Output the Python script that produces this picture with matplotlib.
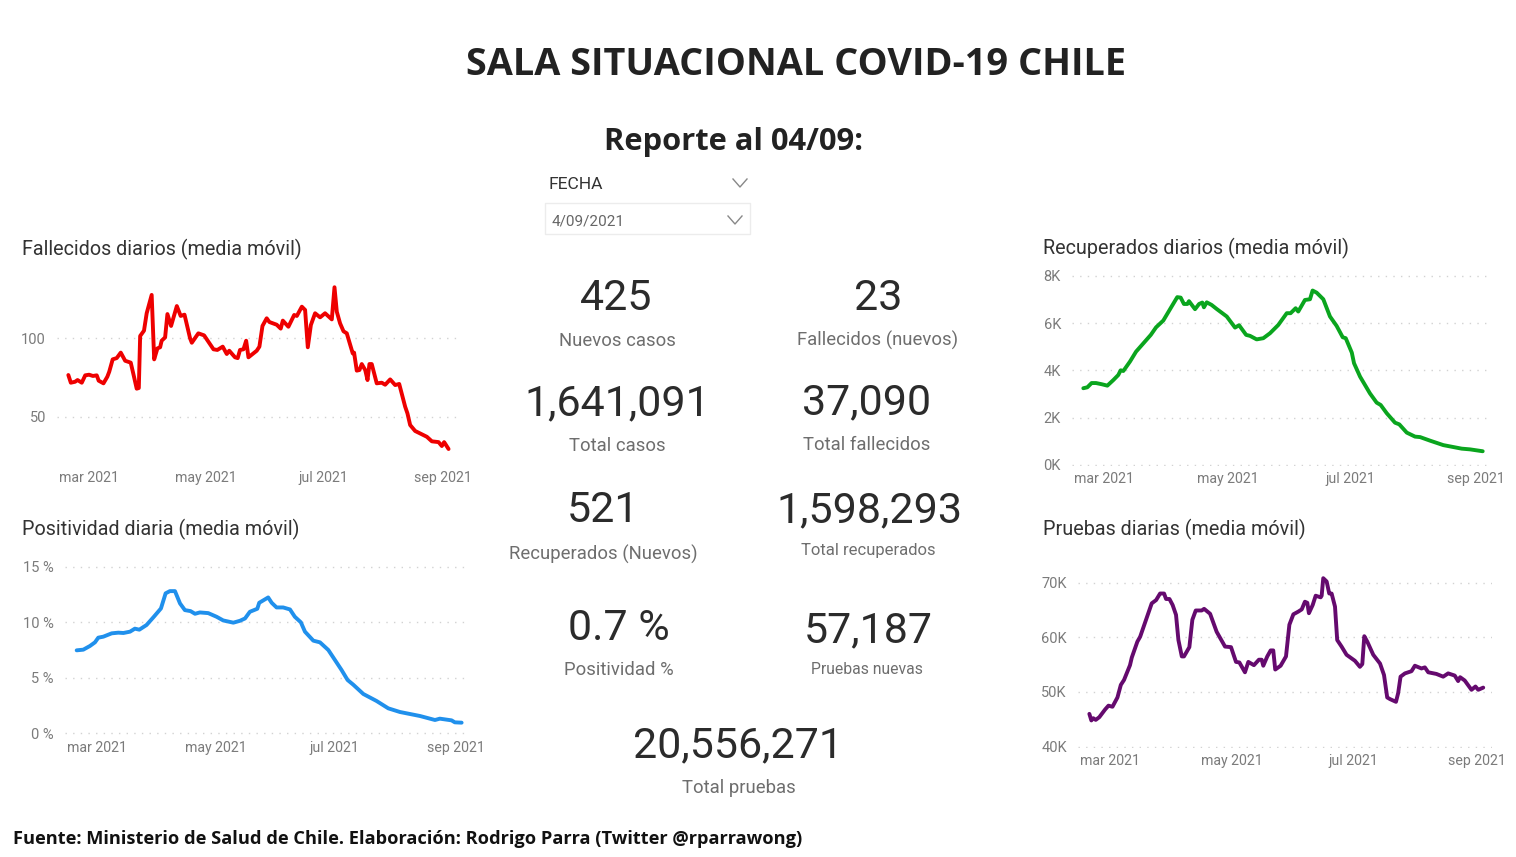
import matplotlib
matplotlib.use("Agg")
import matplotlib.pyplot as plt
from matplotlib.patches import Rectangle

W, H = 1516, 857
LABEL_FONT = "Roboto"
HEAD_FONT = "Open Sans"
GREY = "#7b7b7b"
DARK = "#333333"

# =========================
# Data (days counted from 1 mar 2021)
# =========================
month_ticks = [0, 61, 122, 184]
month_labels = ["mar 2021", "may 2021", "jul 2021", "sep 2021"]

fall_days = [-10.8, -9.5, -7.3, -6, -3.8, -2, 0, 2, 4, 5, 7.5, 9.5, 10.5, 12.3, 14.4, 16.5, 18.8, 21.7, 23.4, 24.8,
             25.9, 26.6, 28.6, 30, 32.6, 33.9, 35.6, 37, 37.8, 39.6, 40.8, 42.7, 45.7, 47.7, 49.7, 52.6, 53.5, 56.9,
             59.9, 64.8, 66.8, 69.6, 71.7, 73, 76, 77.4, 78.6, 80.4, 81.8, 83, 87.3, 88.7, 90.3, 92.5, 93.9, 97.7,
             99.8, 100.9, 103.8, 106.8, 108.2, 110.8, 112.5, 113.9, 115.5, 117.7, 120.3, 122.9, 126.4, 127.8, 129,
             130.7, 132.5, 134.2, 137.3, 138, 139.4, 140.8, 142, 143.8, 145, 146, 147.2, 149.8, 152.4, 154.2, 156.8,
             159.4, 161.5, 164.6, 165.8, 167.2, 169.8, 175.9, 178.5, 182, 183.7, 184.9, 187.2]
fall_vals = [76.6, 71.7, 72.3, 73.4, 71.7, 76.4, 76.8, 76, 76.4, 73, 71.3, 75.5, 78.7, 86.6, 87.4, 90.9, 85.7, 84.5,
             75.5, 67.9, 68.3, 101.5, 104.9, 116, 127.7, 86.6, 93.6, 94.3, 98.5, 100.6, 115.5, 107.9, 120.6, 114.3,
             115.1, 100, 97.2, 103.2, 101.9, 93, 92.6, 94.7, 90, 92.1, 87.9, 87.4, 92.6, 93, 98.5, 87.9, 92.1, 94.7,
             107.9, 112.8, 110.4, 108.7, 106.2, 111.3, 107.4, 114.9, 114.3, 120.2, 118.1, 94.3, 108.5, 116, 113.4,
             116, 112.1, 132.6, 117, 109.6, 104.5, 103.2, 90.4, 90.9, 79.4, 79.8, 83.6, 79.8, 73.4, 83.6, 83.6, 71.3,
             71.7, 70.4, 73.8, 70.2, 70.9, 56.4, 52.1, 44.7, 40.9, 37.2, 34.3, 33.8, 31.3, 33.8, 29.4]

pos_days = [-10.6, -7.2, -3.8, -1.2, 0.5, 3.1, 7.4, 10.8, 13.4, 16.8, 19.3, 21.6, 25.3, 29.1, 32.7, 35.1, 37.3, 39.9,
            42.5, 45, 47.9, 50.2, 52.7, 57, 61.3, 64.7, 69.9, 73.3, 75.9, 78.4, 82.2, 83.2, 87.8, 89.6, 92.1, 95.5,
            99, 101.5, 104.6, 106.7, 111, 114.4, 118.7, 125.5, 128.6, 131.5, 136.7, 143.5, 149.5, 155.5, 165.8,
            173.5, 176, 182, 183.7, 187.2]
pos_vals = [7.47, 7.53, 7.86, 8.19, 8.61, 8.7, 9.0, 9.06, 9.03, 9.15, 9.42, 9.33, 9.75, 10.5, 11.24, 12.6, 12.8, 12.8,
            11.69, 11.09, 11.0, 10.76, 10.88, 10.82, 10.49, 10.16, 9.96, 10.13, 10.34, 10.94, 11.21, 11.75, 12.23,
            11.75, 11.33, 11.33, 11.15, 10.49, 9.99, 9.15, 8.34, 8.19, 7.5, 5.7, 4.8, 4.38, 3.54, 2.91, 2.25, 1.92,
            1.56, 1.2, 1.32, 1.17, 0.99, 0.96]

rec_days = [-10.4, -8.4, -6.3, -4.1, -1.3, 1.5, 4.5, 6.9, 8.1, 9.4, 12.7, 15.7, 19.3, 23, 25.6, 29.2, 33.3, 36.1, 37.8,
            39.4, 41.1, 41.9, 44.9, 46.9, 48.5, 49.3, 50.7, 53.1, 55.6, 60.6, 64.7, 66.7, 70.2, 72.1, 75.4, 78.7, 82,
            86.1, 90.3, 92.2, 94.7, 96, 99.3, 101.8, 103.1, 105.1, 108.4, 111.7, 115, 118, 119.5, 122.5, 123.6, 126.6,
            131.5, 134.8, 136.8, 139.8, 143.9, 146, 149.7, 153.8, 156.3, 161.2, 167.8, 176.9, 181, 187.3]
rec_vals = [3.24, 3.28, 3.46, 3.46, 3.41, 3.35, 3.59, 3.80, 4.0, 3.97, 4.37, 4.79, 5.14, 5.5, 5.82, 6.11, 6.70, 7.10,
            7.08, 6.81, 6.81, 6.93, 6.59, 6.81, 6.87, 6.67, 6.88, 6.77, 6.6, 6.28, 5.81, 5.91, 5.5, 5.46, 5.31, 5.36,
            5.57, 5.92, 6.42, 6.42, 6.63, 6.49, 6.98, 7.01, 7.38, 7.29, 7.01, 6.28, 5.88, 5.4, 5.36, 4.75, 4.3, 3.73,
            3.02, 2.63, 2.53, 2.18, 1.78, 1.71, 1.36, 1.19, 1.17, 1.02, 0.83, 0.68, 0.65, 0.57]

pru_days = [-10.4, -9.4, -8.4, -7.2, -5.4, -2.5, -0.8, 1.2, 3.7, 5.4, 7, 10, 10.9, 13.7, 15.1, 20.9, 23.1, 25.1, 27.1,
            28.1, 29.8, 31.4, 33.1, 34.3, 36, 37.1, 39.8, 41.3, 43, 46, 47.2, 50.2, 53.5, 57.7, 60.7, 63.2, 64.9, 67.7,
            69.4, 72.2, 74.7, 76.1, 76.9, 78.9, 80.6, 81.9, 82.9, 85.6, 88.3, 90, 92, 94.5, 96.2, 97.8, 99, 99.8, 101.7,
            103.2, 105.7, 106.2, 107, 108.7, 110, 111.2, 112.9, 114, 116.2, 118.7, 122.9, 125.4, 126.6, 127.6, 129.1,
            132.1, 135.5, 137.5, 139.1, 140.5, 143.5, 144.6, 145.8, 148, 151.3, 153, 156.3, 158, 159.7, 163.8, 167.2,
            169.7, 173, 174.7, 175.7, 178, 181.4, 183.4, 184.8, 187.3]
pru_vals = [46, 44.8, 45.2, 44.9, 45.4, 46.8, 47.5, 47.3, 49, 51.3, 52.2, 54.9, 56.3, 59.2, 60.1, 66.2, 66.8, 68, 68,
            67, 67, 65.9, 64.1, 59.5, 56.5, 56.5, 58.2, 63.2, 64.9, 64.9, 65.2, 64.3, 61, 58.3, 58.2, 55.5, 55.4, 53.6,
            55.5, 54.9, 55.9, 55.9, 54.8, 56.5, 57.6, 57.6, 54.1, 54.8, 56.5, 62.3, 64.2, 64.7, 65.1, 66.5, 66.3, 64.4,
            65.9, 67.6, 67.3, 67.6, 70.8, 70.2, 68, 68, 65.6, 59.5, 58.3, 56.8, 55.7, 54.6, 55.1, 60.2, 59.2, 56.8,
            55.2, 53.1, 49, 48.7, 48.2, 49.8, 52.8, 53.4, 53.8, 54.8, 54.3, 54.5, 53.6, 53.3, 52.8, 53.4, 53, 52, 52.7,
            52.1, 50.4, 51, 50.4, 50.8]

kpi_values = ["425", "23", "1,641,091", "37,090", "521", "1,598,293", "0.7 %", "57,187", "20,556,271"]
kpi_labels = ["Nuevos casos", "Fallecidos (nuevos)", "Total casos", "Total fallecidos", "Recuperados (Nuevos)",
              "Total recuperados", "Positividad %", "Pruebas nuevas", "Total pruebas"]


fig = plt.figure(figsize=(W / 100, H / 100), dpi=100, facecolor="white")


def px_axes(left, right, top, bottom):
    return fig.add_axes([left / W, 1 - bottom / H, (right - left) / W, (bottom - top) / H])


# =========================
# Line panels
# =========================
def line_panel(box, xlim, ylim, days, vals, color, yticks, ylabels, lw=2.8):
    ax = px_axes(*box)
    ax.plot(days, vals, color=color, lw=lw, solid_joinstyle="round", solid_capstyle="round", zorder=3)
    ax.set_xlim(*xlim)
    ax.set_ylim(*ylim)
    ax.set_xticks(month_ticks, month_labels)
    ax.set_yticks(yticks, ylabels)
    ax.tick_params(axis="x", length=0, pad=4.5, labelsize=10.2, labelcolor=GREY)
    ax.tick_params(axis="y", length=0, pad=8, labelsize=10.5, labelcolor=GREY)
    for lab in ax.get_xticklabels() + ax.get_yticklabels():
        lab.set_family(LABEL_FONT)
    ax.grid(axis="y", color="#d2d2d2", lw=1.0, linestyle=(0, (1, 4.5)))
    ax.set_axisbelow(True)
    for s in ax.spines.values():
        s.set_visible(False)
    ax.patch.set_alpha(0)
    return ax


line_panel((57, 462, 270, 465), (-16.7, 194.2), (19.2, 143.6), fall_days, fall_vals, "#ee0000",
           [50, 100], ["50", "100"])
line_panel((65, 470, 555, 735), (-16.6, 191.5), (-0.15, 16.05), pos_days, pos_vals, "#2090ec",
           [0, 5, 10, 15], ["0 %", "5 %", "10 %", "15 %"])
line_panel((1072, 1492, 270, 466), (-16, 191.9), (-0.055, 8.25), rec_days, rec_vals, "#0aa51e",
           [0, 2, 4, 6, 8], ["0K", "2K", "4K", "6K", "8K"])
line_panel((1078, 1492, 570, 748), (-16.1, 191.7), (39.76, 72.3), pru_days, pru_vals, "#650a6e",
           [40, 50, 60, 70], ["40K", "50K", "60K", "70K"])

# =========================
# Overlay in pixels: titles, KPIs, slicer
# =========================
ov = fig.add_axes([0, 0, 1, 1], zorder=5)
ov.set_xlim(0, W)
ov.set_ylim(H, 0)
ov.axis("off")
ov.patch.set_alpha(0)

ov.text(796, 65, "SALA SITUACIONAL COVID-19 CHILE", ha="center", va="center", family=HEAD_FONT,
        fontweight="bold", fontsize=27.3, color="#222222")
ov.text(733, 142, "Reporte al 04/09:", ha="center", va="center", family=HEAD_FONT,
        fontweight="bold", fontsize=22.2, color="#222222")
ov.text(13, 839, "Fuente: Ministerio de Salud de Chile. Elaboración: Rodrigo Parra (Twitter @rparrawong)",
        ha="left", va="center", family=HEAD_FONT, fontweight="bold", fontsize=13.17, color="#111111")

panel_titles = ["Fallecidos diarios (media móvil)", "Positividad diaria (media móvil)",
                "Recuperados diarios (media móvil)", "Pruebas diarias (media móvil)"]
for t, (x, y) in zip(panel_titles, [(22, 249), (22, 529), (1043, 248), (1043, 529)]):
    ov.text(x, y, t, ha="left", va="center", family=LABEL_FONT, fontsize=14.2, color=DARK)

value_pos = [(616, 298), (878, 298), (617, 404), (867, 403), (603, 511), (869, 511), (619, 628), (868, 631), (738, 746)]
label_pos = [(617, 341), (878, 340), (617, 446), (867, 445), (603, 554), (868, 551), (619, 670), (867, 669), (739, 788)]
label_size = [13.3, 13.3, 13.3, 13.3, 13.3, 12, 13.3, 11.3, 13.3]
for v, l, vp, lp, ls in zip(kpi_values, kpi_labels, value_pos, label_pos, label_size):
    ov.text(*vp, v, ha="center", va="center", family=LABEL_FONT, fontsize=31, color="#2b2b2b")
    ov.text(*lp, l, ha="center", va="center", family=LABEL_FONT, fontsize=ls, color="#6e6e6e")

ov.text(548, 184, "FECHA", ha="left", va="center", family=LABEL_FONT, fontsize=12.6, color=DARK)
ov.text(552, 221, "4/09/2021", ha="left", va="center", family=LABEL_FONT, fontsize=11, color="#666666")
ov.add_patch(Rectangle((545, 203), 205, 31, fc="none", ec="#ececec", lw=1))
for cx, cy in [(740, 183), (735, 220)]:
    ov.plot([cx - 7, cx, cx + 7], [cy - 4, cy + 4, cy - 4], color="#888888", lw=1)

fig.savefig("out.png", dpi=100, facecolor="white")
